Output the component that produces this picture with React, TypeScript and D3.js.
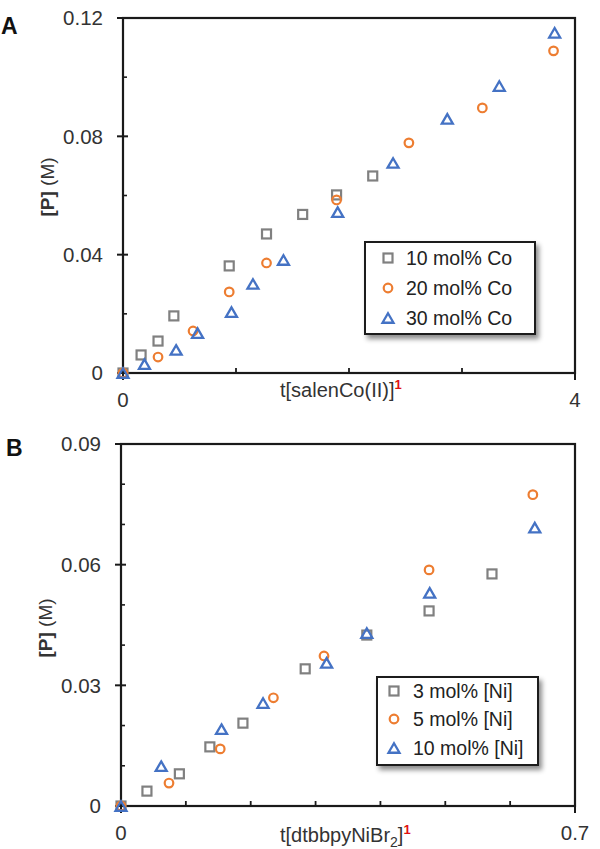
import React from "react";
import * as d3 from "d3";

// ---- Panel A data ----
const coA10x = [0, 0.16, 0.31, 0.45, 0.94, 1.27, 1.59, 1.89, 2.21];
const coA10y = [0, 0.0061, 0.0108, 0.0193, 0.0362, 0.047, 0.0536, 0.0602, 0.0666];
const coA20x = [0, 0.31, 0.62, 0.94, 1.27, 1.89, 2.53, 3.18, 3.81];
const coA20y = [0, 0.0054, 0.0142, 0.0274, 0.0372, 0.0585, 0.0778, 0.0896, 0.1089];
const coA30x = [0, 0.19, 0.47, 0.66, 0.96, 1.15, 1.42, 1.9, 2.39, 2.87, 3.33, 3.82];
const coA30y = [0, 0.003, 0.0078, 0.0135, 0.0206, 0.0301, 0.0382, 0.0544, 0.071, 0.0859, 0.097, 0.115];
const legendA = ["10 mol% Co", "20 mol% Co", "30 mol% Co"];
const yTicksA = [0, 0.04, 0.08, 0.12];
const yMinorA = [0.02, 0.06, 0.1];
const xTicksA = [0, 4];
const xMinorA = [1, 2, 3];

// ---- Panel B data ----
const ni3x = [0, 0.04, 0.09, 0.137, 0.188, 0.284, 0.379, 0.475, 0.572];
const ni3y = [0, 0.0037, 0.008, 0.0147, 0.0206, 0.0341, 0.0425, 0.0485, 0.0577];
const ni5x = [0, 0.074, 0.153, 0.235, 0.313, 0.475, 0.635];
const ni5y = [0, 0.0057, 0.0142, 0.0269, 0.0373, 0.0587, 0.0774];
const ni10x = [0, 0.062, 0.155, 0.219, 0.317, 0.379, 0.476, 0.638];
const ni10y = [0, 0.0099, 0.0191, 0.0256, 0.0356, 0.043, 0.053, 0.0692];
const legendB = ["3 mol% [Ni]", "5 mol% [Ni]", "10 mol% [Ni]"];
const yTicksB = [0, 0.03, 0.06, 0.09];
const yMinorB = [0.01, 0.02, 0.04, 0.05, 0.07, 0.08];
const xTicksB = [0, 0.7];
const xMinorB = [0.1, 0.2, 0.3, 0.4, 0.5, 0.6];

const GRAY = "#808080";
const ORANGE = "#ED7D31";
const BLUE = "#4472C4";
const AX = "#1a1a1a";
const FONT = "'Liberation Sans', Arial, Helvetica, sans-serif";

type Shape = "square" | "circle" | "triangle";

function Marker({ shape, x, y }: { shape: Shape; x: number; y: number }) {
  if (shape === "square") {
    return <rect x={x - 4.5} y={y - 4.5} width={9} height={9} fill="none" stroke={GRAY} strokeWidth={2.2} />;
  }
  if (shape === "circle") {
    return <circle cx={x} cy={y} r={4.3} fill="none" stroke={ORANGE} strokeWidth={2.2} />;
  }
  const h = 9.5;
  const w = 11;
  const p = `M${x},${y - h / 2}L${x + w / 2},${y + h / 2}L${x - w / 2},${y + h / 2}Z`;
  return <path d={p} fill="none" stroke={BLUE} strokeWidth={2.3} strokeLinejoin="miter" />;
}

type PanelProps = {
  letter: string;
  left: number;
  right: number;
  top: number;
  bottom: number;
  xMax: number;
  yMax: number;
  series: { xs: number[]; ys: number[]; shape: Shape }[];
  legend: string[];
  legendBox: { x: number; y: number; w: number; h: number; rows: number[]; mx: number; tx: number };
  yTicks: number[];
  yMinor: number[];
  xTicks: number[];
  xMinor: number[];
  yFmt: (v: number) => string;
  xFmt: (v: number) => string;
  xLabel: React.ReactNode;
  xLabelPos: { x: number; y: number };
  yLabelPos: { x: number; y: number };
  letterPos: { x: number; y: number };
};

function Panel(p: PanelProps) {
  const xs = d3.scaleLinear().domain([0, p.xMax]).range([p.left, p.right]);
  const ys = d3.scaleLinear().domain([0, p.yMax]).range([p.bottom, p.top]);
  const shapes: Shape[] = ["square", "circle", "triangle"];
  return (
    <g>
      <text x={p.letterPos.x} y={p.letterPos.y} fontFamily={FONT} fontWeight="bold" fontSize={23} fill="#111">
        {p.letter}
      </text>
      <rect x={p.left} y={p.top} width={p.right - p.left} height={p.bottom - p.top} fill="none" stroke={AX} strokeWidth={2.2} />
      {p.yTicks.map((t) => (
        <g key={"ym" + t}>
          <line x1={p.left - 6} x2={p.left + 5} y1={ys(t)} y2={ys(t)} stroke={AX} strokeWidth={2} />
          <text x={p.left - 20} y={ys(t)} dy="0.36em" textAnchor="end" fontFamily={FONT} fontSize={20.5} fill="#333">
            {p.yFmt(t)}
          </text>
        </g>
      ))}
      {p.yMinor.map((t) => (
        <line key={"yn" + t} x1={p.left} x2={p.left + 4} y1={ys(t)} y2={ys(t)} stroke={AX} strokeWidth={1.6} />
      ))}
      {p.xMinor.map((t) => (
        <line key={"xn" + t} x1={xs(t)} x2={xs(t)} y1={p.bottom} y2={p.bottom - 5} stroke={AX} strokeWidth={1.8} />
      ))}
      {p.xTicks.map((t) => (
        <g key={"xm" + t}>
          <line x1={xs(t)} x2={xs(t)} y1={p.bottom} y2={p.bottom + 7} stroke={AX} strokeWidth={2} />
          <text x={xs(t)} y={p.bottom + 34} textAnchor="middle" fontFamily={FONT} fontSize={20.5} fill="#333">
            {p.xFmt(t)}
          </text>
        </g>
      ))}
      <text
        transform={`translate(${p.yLabelPos.x},${p.yLabelPos.y}) rotate(-90)`}
        textAnchor="middle"
        fontFamily={FONT}
        fontSize={19}
        fill="#333"
      >
        <tspan fontWeight="bold">[P]</tspan>
        <tspan> (M)</tspan>
      </text>
      <text x={p.xLabelPos.x} y={p.xLabelPos.y} fontFamily={FONT} fontSize={20} fill="#333">
        {p.xLabel}
      </text>
      {p.series.map((s, si) =>
        s.xs.map((xv, i) => <Marker key={si + "-" + i} shape={s.shape} x={xs(xv)} y={ys(s.ys[i])} />)
      )}
      <rect
        x={p.legendBox.x}
        y={p.legendBox.y}
        width={p.legendBox.w}
        height={p.legendBox.h}
        fill="#fff"
        stroke={AX}
        strokeWidth={2}
        filter="url(#shadow)"
      />
      {p.legend.map((lab, i) => (
        <g key={"lg" + i}>
          <Marker shape={shapes[i]} x={p.legendBox.mx} y={p.legendBox.rows[i]} />
          <text x={p.legendBox.tx} y={p.legendBox.rows[i]} dy="0.35em" fontFamily={FONT} fontSize={19.5} fill="#222">
            {lab}
          </text>
        </g>
      ))}
    </g>
  );
}

const fmtY = (v: number) => (v === 0 ? "0" : d3.format(".2f")(v));
const fmtX = (v: number) => (v === 0 ? "0" : String(v));

export default function App() {
  return (
    <svg width={600} height={849} style={{ position: "absolute", left: 0, top: 0, background: "#fff" }}>
      <defs>
        <filter id="shadow" x="-10%" y="-10%" width="130%" height="140%">
          <feDropShadow dx="3" dy="4" stdDeviation="2.5" floodColor="#000" floodOpacity="0.45" />
        </filter>
      </defs>
      <rect x={0} y={0} width={600} height={849} fill="#fff" />
      <Panel
        letter="A"
        left={123}
        right={575}
        top={18}
        bottom={373}
        xMax={4}
        yMax={0.12}
        series={[
          { xs: coA10x, ys: coA10y, shape: "square" },
          { xs: coA20x, ys: coA20y, shape: "circle" },
          { xs: coA30x, ys: coA30y, shape: "triangle" },
        ]}
        legend={legendA}
        legendBox={{ x: 365, y: 242, w: 170, h: 92, rows: [258, 288, 318], mx: 388, tx: 406 }}
        yTicks={yTicksA}
        yMinor={yMinorA}
        xTicks={xTicksA}
        xMinor={xMinorA}
        yFmt={fmtY}
        xFmt={fmtX}
        xLabel={
          <>
            <tspan>t[salenCo(II)]</tspan>
            <tspan fill="#e01010" fontSize={13} fontWeight="bold" dy={-8}>1</tspan>
          </>
        }
        xLabelPos={{ x: 280, y: 397 }}
        yLabelPos={{ x: 54, y: 187 }}
        letterPos={{ x: 1, y: 34 }}
      />
      <Panel
        letter="B"
        left={121}
        right={575}
        top={444}
        bottom={806}
        xMax={0.7}
        yMax={0.09}
        series={[
          { xs: ni3x, ys: ni3y, shape: "square" },
          { xs: ni5x, ys: ni5y, shape: "circle" },
          { xs: ni10x, ys: ni10y, shape: "triangle" },
        ]}
        legend={legendB}
        legendBox={{ x: 377, y: 677, w: 161, h: 88, rows: [691, 719, 748], mx: 394, tx: 413 }}
        yTicks={yTicksB}
        yMinor={yMinorB}
        xTicks={xTicksB}
        xMinor={xMinorB}
        yFmt={fmtY}
        xFmt={fmtX}
        xLabel={
          <>
            <tspan>t[dtbbpyNiBr</tspan>
            <tspan fontSize={14} dy={5}>2</tspan>
            <tspan dy={-5}>]</tspan>
            <tspan fill="#e01010" fontSize={13} fontWeight="bold" dy={-8}>1</tspan>
          </>
        }
        xLabelPos={{ x: 280, y: 842 }}
        yLabelPos={{ x: 52, y: 628 }}
        letterPos={{ x: 6, y: 456 }}
      />
    </svg>
  );
}
